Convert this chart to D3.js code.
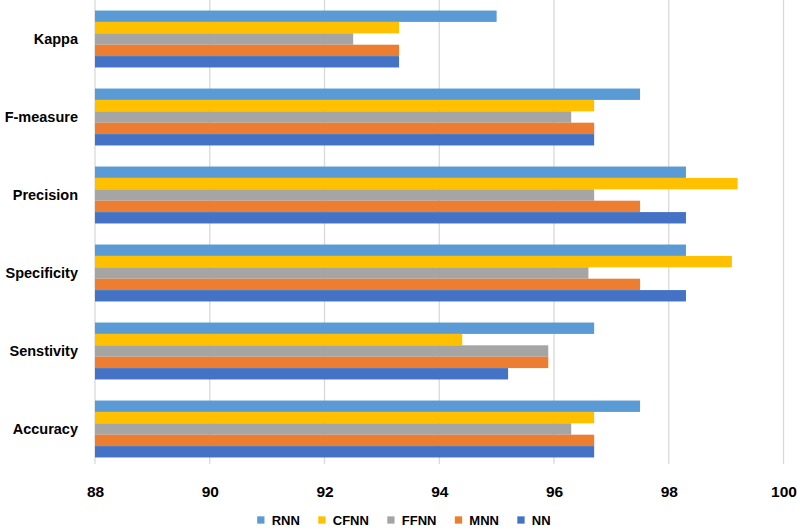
<!DOCTYPE html>
<html>
<head>
<meta charset="utf-8">
<script src="https://cdn.jsdelivr.net/npm/d3@7/dist/d3.min.js"></script>
<style>
  body { margin: 0; background: #fff; }
  svg { display: block; }
  text { font-family: "Liberation Sans", Arial, sans-serif; font-weight: bold; fill: #000; }
</style>
</head>
<body>
<svg id="chart" width="797" height="532"></svg>
<script>
const categories = ["Kappa", "F-measure", "Precision ", "Specificity", "Senstivity", "Accuracy"];
const series = ["RNN", "CFNN", "FFNN", "MNN", "NN"];
const colors = ["#5B9BD5", "#FFC000", "#A5A5A5", "#ED7D31", "#4472C4"];
const RNN  = [95.0, 97.5, 98.3, 98.3, 96.7, 97.5];
const CFNN = [93.3, 96.7, 99.2, 99.1, 94.4, 96.7];
const FFNN = [92.5, 96.3, 96.7, 96.6, 95.9, 96.3];
const MNN  = [93.3, 96.7, 97.5, 97.5, 95.9, 96.7];
const NN   = [93.3, 96.7, 98.3, 98.3, 95.2, 96.7];
const xTicks = [88, 90, 92, 94, 96, 98, 100];
const values = [RNN, CFNN, FFNN, MNN, NN];

const svg = d3.select("#chart");
const x = d3.scaleLinear().domain([88, 100]).range([95, 783.5]);
const y = d3.scaleBand().domain(categories).range([0, 468]).paddingInner(0.27).paddingOuter(0.135);
const ys = d3.scaleBand().domain(series).range([0, y.bandwidth()]);
const color = d3.scaleOrdinal().domain(series).range(colors);

// gridlines
svg.append("g").selectAll("line").data(xTicks).join("line")
  .attr("x1", d => x(d)).attr("x2", d => x(d))
  .attr("y1", 0).attr("y2", 464)
  .attr("stroke", "#D9D9D9").attr("stroke-width", 1.3);

// bars
const rows = [];
categories.forEach((c, i) => series.forEach((s, j) => rows.push({c, s, v: values[j][i]})));
svg.append("g").selectAll("rect").data(rows).join("rect")
  .attr("x", x(88))
  .attr("y", d => y(d.c) + ys(d.s))
  .attr("width", d => x(d.v) - x(88))
  .attr("height", ys.bandwidth())
  .attr("fill", d => color(d.s));

// y axis labels
const yAxis = d3.axisLeft(y).tickSize(0).tickPadding(17);
const gy = svg.append("g").attr("transform", `translate(${x(88)},0)`).call(yAxis);
gy.select(".domain").remove();
gy.selectAll("text").style("font-size", "14.5px").attr("dy", "0.35em");

// x axis labels
const xAxis = d3.axisBottom(x).tickValues(xTicks).tickSize(0).tickPadding(0).tickFormat(d3.format("d"));
const gx = svg.append("g").attr("transform", "translate(0,492)").call(xAxis);
gx.select(".domain").remove();
gx.selectAll("text").style("font-size", "15.5px").attr("dy", "0.35em");

// legend
const lg = svg.append("g");
const items = lg.selectAll("g").data(series).join("g");
items.append("rect").attr("width", 7.3).attr("height", 7.3).attr("y", -3.65).attr("fill", d => color(d));
items.append("text").attr("x", 14.5).attr("dy", "0.36em").style("font-size", "13px").text(d => d);
let cx = 0;
const gap = 18.4;
items.each(function() {
  const w = d3.select(this).select("text").node().getComputedTextLength();
  d3.select(this).attr("transform", `translate(${cx},0)`);
  cx += 14.5 + w + gap;
});
const total = cx - gap;
lg.attr("transform", `translate(${403.9 - total / 2},520)`);
</script>
</body>
</html>
